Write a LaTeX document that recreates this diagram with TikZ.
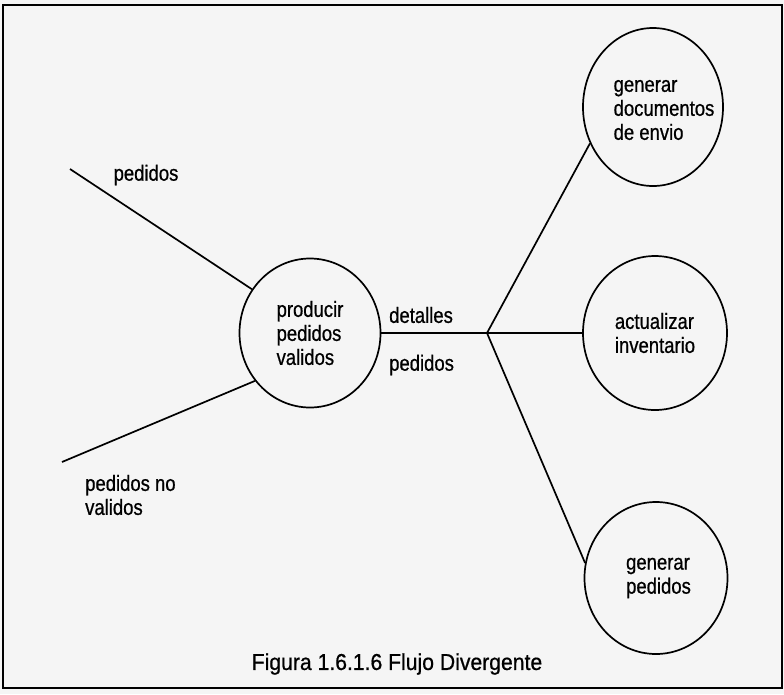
\documentclass[tikz,border=0pt]{standalone}
\usepackage{fontspec}
\setmainfont{Liberation Sans}[FakeStretch=0.84,FakeBold=0.7]
\newfontfamily\capfont{Liberation Sans}[FakeStretch=0.92,FakeBold=0.7]
\usetikzlibrary{shapes.geometric}

\begin{document}
\begin{tikzpicture}[x=1pt,y=-1pt,
  bubble/.style={ellipse,draw,line width=1.7pt,inner sep=0pt,align=left,
    font=\fontsize{22}{24}\selectfont},
  flow/.style={line width=1.7pt},
  lbl/.style={font=\fontsize{22}{24}\selectfont,inner sep=0pt,align=left},
]
% paper and frame
\fill[black!4] (0,0) rectangle (784,694);
\useasboundingbox (0,0) rectangle (784,694);
\draw[line width=1.2pt] (3,5) rectangle (782,688);

% processes
\node[bubble,minimum width=141pt,minimum height=149pt] (prod) at (310,333) {producir\\pedidos\\validos};
\node[bubble,minimum width=140pt,minimum height=158pt,
  label={[lbl,name=docstext,xshift=11pt,yshift=-3pt]center:generar\\documentos\\de envio}] (docs) at (653,107) {};
\node[bubble,minimum width=144pt,minimum height=154pt] (inv) at (655,333) {actualizar\\inventario};
\node[bubble,minimum width=143pt,minimum height=152pt] (gen) at (656,578) {\hspace*{5pt}generar\\\hspace*{5pt}pedidos};

% flow end points and split point
\coordinate (inA) at (70,169);
\coordinate (outA) at (62,462);
\coordinate (J) at (487,333);

% flows
\draw[flow] (inA) -- (prod.143);
\draw[flow] (outA) -- (prod.221);
\draw[flow] (prod.east) -- (J) -- (inv.west);
\draw[flow] (J) -- (docs.210);
\draw[flow] (J) -- (gen.168);

% flow labels
\node[lbl] (lblin) at (146,175) {pedidos};
\node[lbl,anchor=west] (lblout) at (85,495) {pedidos no\\validos};
\node[lbl,anchor=west] (det) at (389,315) {detalles};
\node[lbl,anchor=west] (ped) at (389,365) {pedidos};

% caption
\node[font=\capfont\fontsize{23}{26}\selectfont,inner sep=0pt] (cap) at (397,664) {Figura 1.6.1.6 Flujo Divergente};
\end{tikzpicture}
\end{document}
